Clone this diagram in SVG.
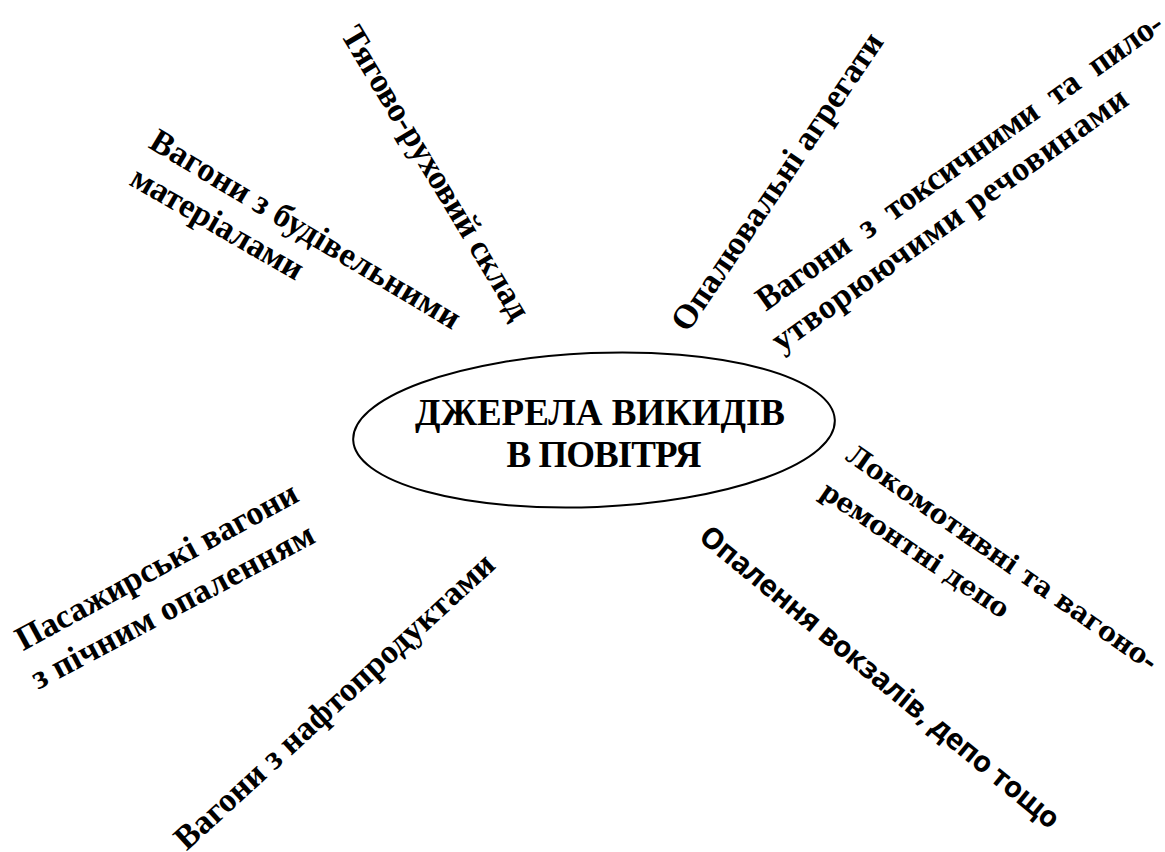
<svg xmlns="http://www.w3.org/2000/svg" width="1165" height="852" viewBox="0 0 1165 852" font-family="Liberation Serif, Times New Roman, serif" font-weight="700">
<rect width="1165" height="852" fill="#fff"/>
<g id="connectors"/>
<g id="center">
<ellipse cx="594" cy="430" rx="241" ry="77" transform="rotate(-2.4 594 430)" fill="none" stroke="#000" stroke-width="2"/>
<text x="600" y="425" font-size="37" text-anchor="middle" textLength="370">ДЖЕРЕЛА ВИКИДІВ</text>
<text x="604" y="467" font-size="37" text-anchor="middle" textLength="195">В ПОВІТРЯ</text>
</g>
<g id="n-tyagovo">
<text transform="translate(435 173) rotate(59)" x="0" y="10" font-size="34" text-anchor="middle" textLength="336">Тягово-руховий склад</text>
</g>
<g id="n-budivelni">
<text transform="translate(305 230) rotate(31)" x="0" y="10" font-size="34" text-anchor="middle" textLength="356">Вагони з будівельними</text>
<text transform="translate(217 224) rotate(30)" x="0" y="10" font-size="34" text-anchor="middle" textLength="194">матеріалами</text>
</g>
<g id="n-opaliuvalni">
<text transform="translate(778 182) rotate(-56)" x="0" y="10" font-size="34" text-anchor="middle" textLength="352">Опалювальні агрегати</text>
</g>
<g id="n-toksychni">
<text transform="translate(960 162) rotate(-35.3)" x="0" y="10" font-size="34" text-anchor="middle" word-spacing="10" textLength="490">Вагони з токсичними та пило-</text>
<text transform="translate(950 220) rotate(-35.5)" x="0" y="10" font-size="34" text-anchor="middle" textLength="429">утворюючими речовинами</text>
</g>
<g id="n-lokomotyvni" font-family="DejaVu Serif, serif">
<text transform="translate(1002 558) rotate(34.9)" x="0" y="9" font-size="27" text-anchor="middle" textLength="373">Локомотивні та вагоно-</text>
<text transform="translate(915 550) rotate(34)" x="0" y="9" font-size="27" text-anchor="middle" textLength="221">ремонтні депо</text>
</g>
<g id="n-vokzaly" font-family="Open Sans, sans-serif">
<text transform="translate(880 677) rotate(39.5)" x="0" y="10" font-size="29" text-anchor="middle" textLength="457">Опалення вокзалів, депо тощо</text>
</g>
<g id="n-pasazhyrski">
<text transform="translate(157 567) rotate(-28.5)" x="0" y="10" font-size="34" text-anchor="middle" textLength="316">Пасажирські вагони</text>
<text transform="translate(173 607) rotate(-28)" x="0" y="10" font-size="34" text-anchor="middle" textLength="316">з пічним опаленням</text>
</g>
<g id="n-naftoprodukty">
<text transform="translate(335 702) rotate(-42.5)" x="0" y="10" font-size="34" text-anchor="middle" textLength="421">Вагони з нафтопродуктами</text>
</g>
</svg>
